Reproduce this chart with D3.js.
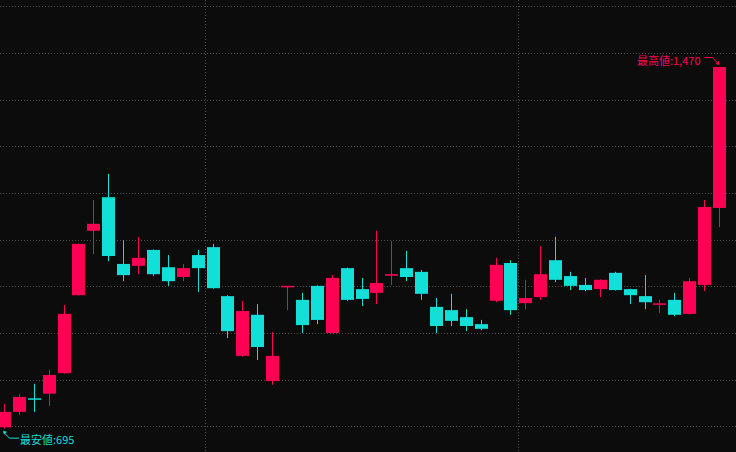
<!DOCTYPE html>
<html>
<head>
<meta charset="utf-8">
<script src="https://cdn.jsdelivr.net/npm/d3@7"></script>
<style>
html,body{margin:0;padding:0;background:#0c0c0c;}
svg{display:block;}
</style>
</head>
<body>
<svg id="chart" width="736" height="452"></svg>
<script>
// ---- data ----
const openV  = [698,731,759,770,814,981,1119,1191,1048,1044,1078,1041,1020,1067,1084,979,851,939,797,999,971,1001,900,1039,994,986,1024,1039,1031,956,949,934,919,969,1050,964,977,1056,1022,1003,994,1029,994,979,961,971,941,1003,1168];
const highV  = [748,769,791,821,960,1092,1185,1241,1099,1106,1079,1067,1048,1078,1091,981,969,962,902,1000,986,1002,1024,1040,1018,1119,1097,1076,1035,975,984,951,928,1061,1056,1014,1086,1106,1031,1018,1015,1031,995,1024,971,986,1018,1185,1470];
const lowV   = [695,724,731,744,813,980,1069,1054,1011,1026,1022,1001,1011,988,995,889,849,842,789,949,900,919,899,969,958,962,1003,1011,971,900,915,904,906,966,939,951,971,1009,992,990,977,991,962,951,943,936,940,990,1127];
const closeV = [731,763,758,810,941,1091,1134,1065,1024,1061,1026,1011,1039,1039,996,904,947,870,851,1000,917,928,1018,971,973,1007,1025,1020,984,915,926,915,909,1046,949,975,1026,1014,1001,992,1014,992,981,966,963,939,1011,1170,1470];
const gridValues = [700,800,900,1000,1100,1200,1300,1400,1500,1600];
const separatorIdx = [14, 35];
const highLabel = "最高値:1,470";
const lowLabel = "最安値:695";

const W = 736, H = 452;
const UP = "#ff0055", DOWN = "#12dfd8", GRID = "#4e4e4e";

const svg = d3.select("#chart");
svg.append("rect").attr("width", W).attr("height", H).attr("fill", "#0c0c0c");

const n = openV.length;
const x = d3.scalePoint().domain(d3.range(n)).range([4.5, 719.5]);
const step = x.step();
const cx = i => Math.floor(x(i)) + 0.5;
const y = d3.scaleLinear().domain([645, 1613.6]).range([H, 0]);

// grid
svg.append("g").selectAll("line").data(gridValues).join("line")
  .attr("x1", 0).attr("x2", W)
  .attr("y1", d => Math.round(y(d)) + 0.5).attr("y2", d => Math.round(y(d)) + 0.5)
  .attr("stroke", GRID).attr("stroke-width", 1).attr("stroke-dasharray", "1,2");
svg.append("g").selectAll("line").data(separatorIdx).join("line")
  .attr("x1", d => Math.floor(x(d) - step / 2) + 0.5).attr("x2", d => Math.floor(x(d) - step / 2) + 0.5)
  .attr("y1", 0).attr("y2", H)
  .attr("stroke", GRID).attr("stroke-width", 1).attr("stroke-dasharray", "1,2");

const data = d3.range(n).map(i => ({i, o: openV[i], h: highV[i], l: lowV[i], c: closeV[i]}));
const col = d => d.c >= d.o ? UP : DOWN;
const bodyW = 13;

const g = svg.append("g");
g.selectAll("line.wick").data(data).join("line").attr("class", "wick")
  .attr("x1", d => cx(d.i)).attr("x2", d => cx(d.i))
  .attr("y1", d => y(d.h)).attr("y2", d => y(d.l))
  .attr("stroke", col).attr("stroke-width", 1);
g.selectAll("rect.body").data(data).join("rect").attr("class", "body")
  .attr("x", d => cx(d.i) - bodyW / 2)
  .attr("width", bodyW)
  .attr("y", d => {
    const t = y(Math.max(d.o, d.c)), b = y(Math.min(d.o, d.c));
    return (b - t) < 1.5 ? (t + b) / 2 - 0.75 : t;
  })
  .attr("height", d => Math.max(1.5, y(Math.min(d.o, d.c)) - y(Math.max(d.o, d.c))))
  .attr("fill", col);

// annotations
const font = "'Noto Sans CJK JP', 'Noto Sans', sans-serif";
const iMax = d3.maxIndex(highV), iMin = d3.minIndex(lowV);
const hx = cx(iMax), hy = y(highV[iMax]);
const ann = svg.append("g");
ann.append("path")
  .attr("d", `M${hx - 15},${hy - 9.5} L${hx - 7},${hy - 9.5} L${hx - 1},${hy - 3}`)
  .attr("fill", "none").attr("stroke", UP).attr("stroke-width", 1);
ann.append("path")
  .attr("d", `M${hx},${hy - 2} L${hx - 4},${hy - 3} L${hx - 1},${hy - 6} Z`)
  .attr("fill", UP);
ann.append("text")
  .attr("x", hx - 19).attr("y", hy - 2.5)
  .attr("text-anchor", "end").attr("font-family", font).attr("font-size", 11)
  .attr("fill", UP).text(highLabel);

const lx = cx(iMin) - 1.5, ly = y(lowV[iMin]);
ann.append("path")
  .attr("d", `M${lx + 1},${ly + 4} L${lx + 6.5},${ly + 9.5} L${lx + 16},${ly + 9.5}`)
  .attr("fill", "none").attr("stroke", DOWN).attr("stroke-width", 1);
ann.append("path")
  .attr("d", `M${lx},${ly + 2} L${lx + 4},${ly + 3} L${lx + 1},${ly + 6} Z`)
  .attr("fill", DOWN);
ann.append("text")
  .attr("x", lx + 17).attr("y", ly + 15)
  .attr("font-family", font).attr("font-size", 11)
  .attr("fill", DOWN).text(lowLabel);
</script>
</body>
</html>
